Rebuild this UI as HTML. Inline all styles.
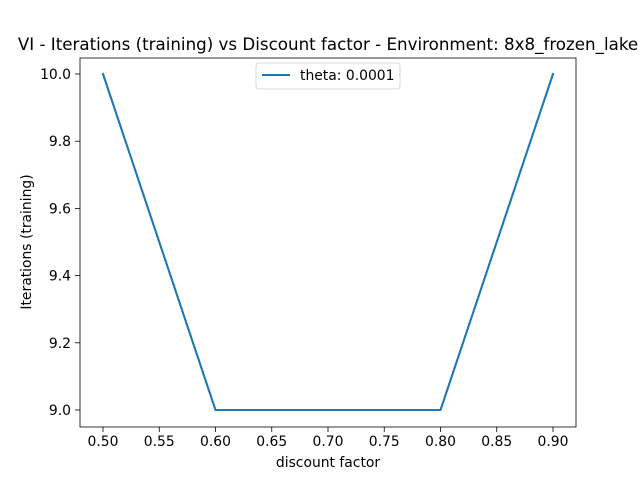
<!DOCTYPE html>
<html><head><meta charset="utf-8"><style>
body{margin:0;background:#fff;width:640px;height:480px;overflow:hidden}
svg text{font-family:"DejaVu Sans","Liberation Sans",sans-serif;fill:#000}
</style></head><body>
<svg id="chart" width="640" height="480" xmlns="http://www.w3.org/2000/svg">
<rect width="640" height="480" fill="#fff"/>
<text x="328" y="50" font-size="16.7" text-anchor="middle">VI - Iterations (training) vs Discount factor - Environment: 8x8_frozen_lake</text>
<g id="ticks"></g>
<path id="series" fill="none" stroke="#1f77b4" stroke-width="2.1" stroke-linejoin="round" stroke-linecap="square"/>
<rect x="80" y="58" width="496" height="369" fill="none" stroke="#000" stroke-width="0.8"/>
<text x="328" y="467" font-size="13.9" text-anchor="middle">discount factor</text>
<text transform="translate(31,242) rotate(-90)" font-size="13.9" text-anchor="middle">Iterations (training)</text>
<g>
<rect x="256" y="63" width="144" height="26" rx="3" fill="#fff" stroke="#ccc" stroke-width="0.8"/>
<line x1="262" y1="75" x2="290" y2="75" stroke="#1f77b4" stroke-width="2.1"/>
<text x="300" y="80" font-size="13.9">theta: 0.0001</text>
</g>
</svg>
<script>
const categories=[0.5,0.6,0.7,0.8,0.9];
const values=[10,9,9,9,10];
const xTicks=[0.5,0.55,0.6,0.65,0.7,0.75,0.8,0.85,0.9];
const yTicks=[9.0,9.2,9.4,9.6,9.8,10.0];
const X=v=>103+(v-0.5)/0.4*450;
const Y=v=>410-(v-9)*336;
const g=document.getElementById('ticks');
const NS='http://www.w3.org/2000/svg';
function mk(t,a){const e=document.createElementNS(NS,t);for(const k in a)e.setAttribute(k,a[k]);return e;}
xTicks.forEach(v=>{
 const l=mk('line',{x1:X(v),x2:X(v),y1:427,y2:432,stroke:'#000','stroke-width':0.8});
 
 
 g.appendChild(l);
 const t=mk('text',{x:X(v),y:446,'font-size':13.9,'text-anchor':'middle'});
 t.textContent=v.toFixed(2);
 
 
 g.appendChild(t);
});
yTicks.forEach(v=>{
 const l=mk('line',{x1:75,x2:80,y1:Y(v),y2:Y(v),stroke:'#000','stroke-width':0.8});
 
 
 g.appendChild(l);
 const t=mk('text',{x:71,y:Y(v)+5,'font-size':13.9,'text-anchor':'end'});
 t.textContent=v.toFixed(1);
 
 
 g.appendChild(t);
});
document.getElementById('series').setAttribute('d',categories.map((c,i)=>(i?'L':'M')+X(c)+','+Y(values[i])).join(''));
</script>
</body></html>
